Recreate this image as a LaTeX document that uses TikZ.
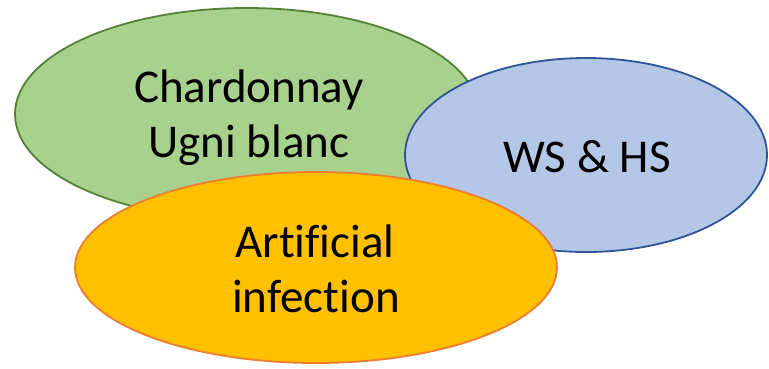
\documentclass[tikz,border=0pt]{standalone}
\usepackage{fontspec}
\setmainfont{Carlito}[Ligatures=CommonOff]
\usetikzlibrary{shapes.geometric}
\definecolor{gfill}{HTML}{A9D18E}
\definecolor{gline}{HTML}{548235}
\definecolor{bfill}{HTML}{B4C7E7}
\definecolor{bline}{HTML}{2F5597}
\definecolor{ofill}{HTML}{FFC000}
\definecolor{oline}{HTML}{ED7D31}
\tikzset{
  blob/.style={ellipse, inner sep=0pt, line width=1.8pt},
  lbl/.style={anchor=base, inner sep=0pt, font=\fontsize{47}{55}\selectfont}
}
\begin{document}
\begin{tikzpicture}[x=1pt,y=-1pt]
\useasboundingbox (0,0) rectangle (769,368);
\node[blob, fill=gfill, draw=gline, minimum width=464pt, minimum height=212pt] (green) at (247,114) {};
\node[blob, fill=bfill, draw=bline, minimum width=362pt, minimum height=194pt] (blue) at (586,155) {};
\node[blob, fill=ofill, draw=oline, minimum width=482pt, minimum height=191pt] (orange) at (316,267.5) {};
\node[lbl] (chard) at (249,102) {Chardonnay};
\node[lbl] (ugni) at (249,157) {Ugni blanc};
\node[lbl] (ws) at (587,172) {WS \& HS};
\node[lbl] (art) at (315,257) {Artificial};
\node[lbl] (inf) at (316,312) {infection};
\end{tikzpicture}
\end{document}
